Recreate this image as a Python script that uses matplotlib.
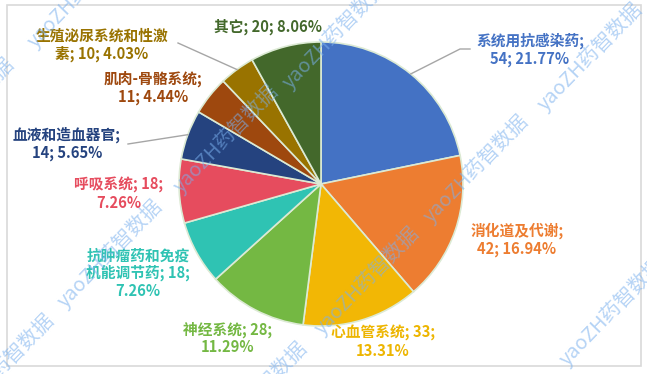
import matplotlib
matplotlib.use("Agg")
import matplotlib.pyplot as plt
from matplotlib.patches import Rectangle
import numpy as np

plt.rcParams['font.family'] = ['Noto Sans CJK SC', 'DejaVu Sans']

# ---- data ----
categories = ['系统用抗感染药', '消化道及代谢', '心血管系统', '神经系统',
              '抗肿瘤药和免疫机能调节药', '呼吸系统', '血液和造血器官',
              '肌肉-骨骼系统', '生殖泌尿系统和性激素', '其它']
values = [54, 42, 33, 28, 18, 18, 14, 11, 10, 20]
colors = ['#4472C4', '#ED7D31', '#F2B705', '#74B843', '#2FC3B3',
          '#E64C5E', '#25437F', '#9E480E', '#997300', '#43682B']
text_colors = ['#4472C4', '#ED7D31', '#EDB500', '#74B843', '#2FC3B3',
               '#E64C5E', '#25437F', '#9E480E', '#997300', '#43682B']

# label layout: (break inside name index, style), text centre in px
name_break = [None, None, None, None, 7, None, None, None, 9, None]
style = ['a', 'a', 'b', 'b', 'b', 'b', 'a', 'a', 'c', 'd']
label_pos = [(530, 50), (517, 240), (383, 342), (228, 338), (138, 273),
             (119, 194), (67, 144), (153, 88), (102, 45), (268, 27)]
leader = {0: [(460, 49), (470, 49)], 6: [(128, 144)], 8: [(178, 43)]}

W, H = 647, 374
fig = plt.figure(figsize=(W / 100, H / 100), dpi=100)
ax = fig.add_axes([0, 0, 1, 1])

cx, cy, r = 321, 184, 142
wedges, _ = ax.pie(values, colors=colors, startangle=90, counterclock=False,
                   center=(cx, H - cy), radius=r,
                   wedgeprops=dict(edgecolor='#DCEAD4', linewidth=1.2))
ax.set_xlim(0, W)
ax.set_ylim(0, H)
ax.axis('off')

total = sum(values)
for i, (name, v) in enumerate(zip(categories, values)):
    pct = v / total * 100
    nm = name
    if name_break[i] is not None:
        nm = name[:name_break[i]] + '\n' + name[name_break[i]:]
    if style[i] == 'a':
        txt = f'{nm};\n{v}; {pct:.2f}%'
    elif style[i] == 'b':
        txt = f'{nm}; {v};\n{pct:.2f}%'
    else:
        txt = f'{nm}; {v}; {pct:.2f}%'
    x, y = label_pos[i]
    ax.text(x, H - y, txt, ha='center', va='center', fontsize=10.6,
            fontweight='bold', color=text_colors[i], linespacing=1.1,
            zorder=5)
    if i in leader:
        w = wedges[i]
        mid = np.deg2rad((w.theta1 + w.theta2) / 2)
        px, py = cx + r * np.cos(mid), (H - cy) + r * np.sin(mid)
        pts = [(px, py)] + [(a, H - b) for a, b in leader[i]]
        xs, ys = zip(*pts)
        ax.plot(xs, ys, color='#A6A6A6', lw=1, zorder=4)

# border
ax.add_patch(Rectangle((7, H - 366), 634, 361, fill=False,
                       edgecolor='#D9D9D9', lw=1.2, zorder=6))

# watermarks
wm = [(226, 139), (476, 169), (367, 281), (110, 254), (590, 57), (612, 312),
      (335, 35), (80, -6), (-38, 112), (2, 368), (255, 396)]
for x, y in wm:
    ax.text(x, H - y, 'yaoZH药智数据', ha='center', va='center', rotation=46,
            fontsize=14.5, color='#7AB0EE', alpha=0.55, zorder=7,
            rotation_mode='anchor')

fig.savefig('out.png', dpi=100)
